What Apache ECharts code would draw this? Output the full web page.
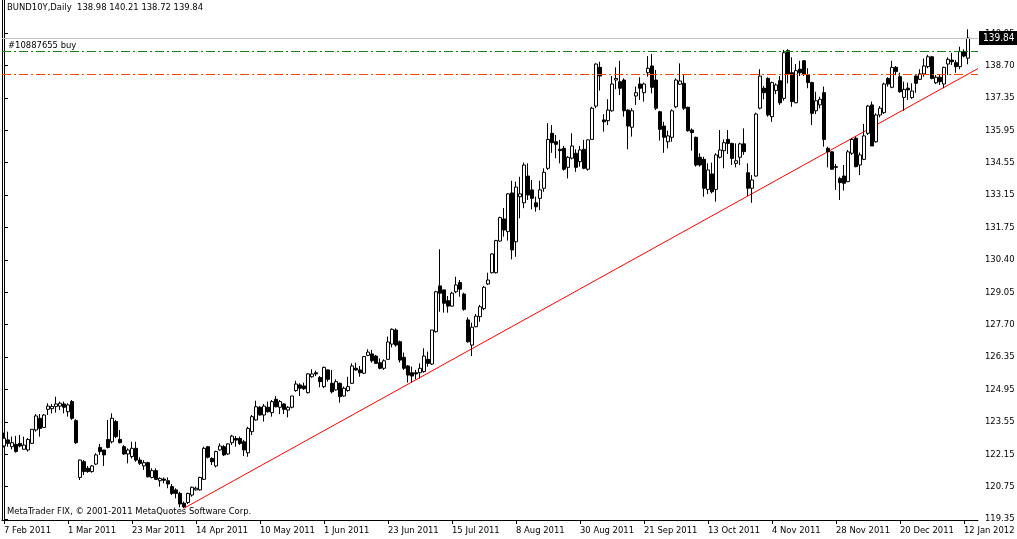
<!DOCTYPE html>
<html><head><meta charset="utf-8">
<script src="https://cdn.jsdelivr.net/npm/echarts@6/dist/echarts.min.js"></script>
<style>html,body{margin:0;padding:0;background:#fff}#c{width:1017px;height:539px}</style>
</head><body><div id="c"></div>
<script>
const symbolName = 'BUND10Y';
const timeframe = 'Daily';
const startDate = [2011, 1, 7];
const holidays = ['2011-04-22', '2011-04-25', '2011-12-26'];

const opens = [122.46,122.72,122.43,122.53,122.57,122.32,122.29,122.57,123.14,123.64,123.25,124.02,124.05,124.14,124.16,124.25,123.92,124.35,123.54,121.12,
121.79,121.51,121.37,121.69,122.40,122.29,122.74,122.64,123.50,122.74,122.43,122.12,122.01,122.36,121.86,121.61,121.75,121.12,121.41,120.98,
121.05,120.98,120.73,120.59,120.44,120.02,120.05,120.37,120.59,120.59,121.04,122.43,121.93,121.61,122.29,122.43,122.12,122.60,122.78,122.78,
122.64,122.17,123.07,123.57,124.11,123.78,124.11,123.88,124.45,124.11,124.25,123.99,124.11,124.82,125.06,125.02,124.73,125.41,125.58,125.38,
124.99,125.70,125.13,124.85,125.13,124.59,124.82,125.13,125.77,125.70,125.56,126.32,126.38,126.29,126.01,125.77,126.15,126.80,127.40,126.90,
126.24,125.87,125.58,125.58,125.58,125.63,126.15,125.95,127.33,129.28,129.11,128.65,128.42,129.03,129.42,128.93,127.83,126.76,127.54,127.97,
128.31,129.36,129.84,129.84,131.19,132.13,131.59,133.24,131.16,133.08,132.82,133.96,133.37,132.82,133.01,133.44,134.29,135.78,135.42,135.10,
135.14,134.33,134.72,134.93,134.57,135.10,134.25,135.52,136.94,138.59,136.35,136.32,136.74,138.05,137.98,138.05,136.77,136.04,137.37,137.88,
137.51,138.36,138.65,138.05,136.70,136.09,135.42,135.61,136.91,137.87,137.91,136.89,135.92,135.61,134.76,134.67,133.39,134.05,133.39,134.76,
135.04,135.52,135.35,134.50,134.76,135.33,134.10,133.44,133.96,136.85,137.70,138.12,136.49,137.60,138.02,137.27,139.30,138.36,137.08,138.51,
138.87,138.26,137.94,136.74,136.99,137.51,135.14,134.99,134.36,133.86,133.96,133.72,134.93,135.57,134.43,134.67,135.78,136.99,135.42,136.56,
136.66,138.12,137.74,138.59,138.19,137.31,137.70,137.30,138.22,138.08,138.31,138.62,139.04,137.93,138.17,137.88,138.73,138.90,138.79,138.62,
139.26,138.98];

const closes = [122.79,122.57,122.60,122.22,122.46,122.50,122.74,123.17,123.74,123.21,123.78,124.16,124.14,124.25,124.28,124.11,124.21,123.64,122.60,121.86,
121.37,121.37,121.61,122.08,122.22,122.08,122.40,123.64,122.86,122.60,122.12,122.29,122.36,121.86,121.72,121.75,121.15,121.41,121.04,121.08,
121.00,120.84,120.44,120.44,119.99,119.87,120.44,120.70,120.66,121.12,122.36,121.98,121.79,122.22,122.46,122.08,122.55,122.88,122.71,122.57,
122.29,123.21,123.71,124.13,123.78,124.16,123.92,124.35,124.13,124.35,124.02,124.11,124.59,125.10,124.92,124.90,125.53,125.53,125.53,125.20,
125.81,125.30,124.77,125.20,124.56,124.92,124.99,125.87,125.70,125.58,126.27,126.46,126.09,125.98,125.77,126.09,126.89,127.43,126.76,126.12,
125.77,125.48,125.44,125.53,125.77,126.29,125.98,127.40,129.03,128.97,128.54,128.42,128.97,129.32,129.14,128.28,126.90,127.52,127.99,128.39,
129.22,129.53,130.64,131.21,132.19,131.66,133.20,130.81,133.49,133.20,134.43,133.15,133.01,132.65,133.37,134.12,135.52,135.38,135.31,135.04,
134.25,134.76,135.24,134.33,135.07,134.29,135.50,136.85,138.73,138.22,136.27,136.77,137.88,138.12,137.70,136.74,136.09,136.74,137.51,137.70,
137.88,138.55,137.74,136.85,135.95,135.61,135.67,136.74,138.05,138.01,136.85,135.89,135.81,134.43,134.43,133.44,134.22,133.29,134.86,135.07,
135.38,135.35,134.71,134.61,135.33,135.00,133.44,133.79,136.60,138.22,137.51,136.56,137.94,137.84,137.08,139.21,138.31,137.13,138.45,138.36,
138.31,137.94,136.63,137.17,137.23,135.52,134.99,134.25,134.33,133.68,133.65,134.99,135.52,134.36,134.86,135.67,136.94,135.24,136.56,136.85,
137.88,137.88,138.59,138.41,137.55,137.65,137.63,137.58,137.91,138.31,138.65,139.04,138.12,138.17,137.98,138.59,138.93,138.83,138.62,139.26,
139.07,139.84];

const lows = [122.40,122.43,122.32,122.18,122.40,122.30,122.22,122.55,123.07,122.86,123.24,123.78,123.85,123.88,123.99,123.85,123.71,123.57,122.55,121.01,
121.22,121.32,121.32,121.65,122.08,121.61,122.36,122.57,122.79,122.57,122.08,121.72,121.93,121.79,121.65,121.44,121.12,121.08,121.01,120.73,
120.87,120.66,120.37,120.23,119.85,119.81,119.99,120.30,120.56,120.56,121.01,121.93,121.65,121.55,122.26,122.03,122.08,122.50,122.43,122.50,
122.03,122.00,122.93,123.54,123.76,123.50,123.88,123.71,124.11,123.82,123.82,123.68,124.06,124.77,124.59,124.85,124.70,125.37,125.44,124.96,
124.92,125.20,124.70,124.82,124.31,124.56,124.77,125.10,125.67,125.41,125.53,126.29,126.01,125.95,125.73,125.70,126.12,126.66,126.69,126.01,
125.70,125.16,125.16,125.30,125.34,125.58,125.84,125.91,127.29,128.18,128.14,128.14,128.40,128.97,128.82,128.22,126.86,126.29,127.52,127.75,
128.25,129.32,129.81,129.81,131.16,131.38,131.21,130.41,130.52,132.16,132.59,132.94,132.54,132.44,132.51,133.29,134.22,134.95,134.72,134.50,
134.19,133.86,134.67,134.14,134.36,134.25,134.19,135.50,136.85,137.60,135.85,136.13,136.70,137.66,137.41,136.49,135.10,135.64,136.99,137.20,
137.13,138.19,137.48,136.77,135.47,134.95,135.14,135.42,136.85,137.84,136.77,135.85,135.04,134.36,134.36,133.08,133.19,133.22,132.87,134.71,
134.29,134.90,134.43,134.33,134.43,134.86,133.11,132.82,133.93,136.80,137.23,136.49,136.27,137.45,136.99,137.17,137.91,136.91,137.06,138.22,
138.22,137.70,136.13,136.60,136.84,135.21,134.33,134.22,133.37,132.94,133.34,133.70,134.86,134.33,134.00,134.64,135.71,135.24,135.38,136.46,
136.60,137.77,137.70,138.26,137.51,136.74,137.20,137.25,137.51,138.05,138.19,138.55,138.08,137.88,137.84,137.70,138.26,138.69,138.36,138.51,
139.02,138.72];

const highs = [123.03,123.07,122.86,122.89,122.93,122.86,122.80,123.18,123.82,123.82,123.82,124.28,124.25,124.56,124.35,124.35,124.28,124.42,123.60,121.88,
121.86,121.61,121.65,122.15,122.55,122.29,123.57,123.85,123.57,123.14,122.50,122.36,122.64,122.64,121.98,121.86,121.79,121.51,121.51,121.12,
121.12,121.12,120.84,120.66,120.51,120.09,120.47,120.73,120.73,121.15,122.43,122.46,121.98,122.26,122.57,122.50,122.57,122.93,122.88,122.86,
122.72,123.28,123.78,124.39,124.16,124.25,124.35,124.42,124.59,124.42,124.28,124.16,124.59,125.24,125.13,125.16,125.56,125.73,125.67,125.44,
125.84,125.73,125.70,125.30,125.16,124.99,125.41,125.98,126.01,125.87,126.29,126.58,126.55,126.34,126.19,126.15,127.12,127.47,127.47,126.95,
126.44,125.91,125.84,125.70,125.98,126.62,126.48,127.40,129.07,130.84,129.11,128.85,129.03,129.67,129.53,128.99,127.94,127.71,128.08,128.47,
129.28,129.84,130.67,131.24,132.23,132.60,133.24,133.76,133.72,133.93,134.53,134.50,133.79,133.08,133.76,134.29,136.21,136.13,135.71,135.50,
135.24,134.81,135.78,135.10,135.24,135.50,135.52,136.91,138.76,138.83,136.60,137.23,138.22,138.59,138.87,138.12,136.80,136.85,137.77,138.17,
137.94,139.07,139.16,138.48,136.74,136.27,135.89,136.80,138.12,138.76,138.26,136.91,135.99,135.64,134.93,134.78,134.50,134.53,134.93,135.92,
135.52,135.92,135.38,135.35,135.38,135.99,134.50,134.00,136.66,138.51,137.80,138.17,137.98,137.91,138.22,139.33,139.36,139.02,138.73,138.87,
138.90,138.55,137.98,137.55,137.34,137.77,135.21,135.01,134.47,133.93,134.43,135.07,135.57,135.64,134.96,136.18,136.99,137.13,136.63,136.94,
137.94,138.17,138.87,138.65,138.36,137.98,137.94,137.91,138.26,138.51,138.97,139.12,139.07,138.26,138.26,138.62,139.02,139.21,138.90,139.47,
139.36,140.21];

const yTickLabels = ['119.35','120.75','122.15','123.55','124.95','126.35','127.70','129.05','130.40','131.75','133.15','134.55','135.95','137.35','138.70','140.05'];
const bidPrice = 139.84;
const buyOrderPrice = 139.29;
const buyOrderLabel = '#10887655 buy';
const orangeLevel = 138.31;
const trendline = [[45, 119.81], [243.5, 138.54]];
const copyright = 'MetaTrader FIX, \u00a9 2001-2011 MetaQuotes Software Corp.';

const FONT = "'DejaVu Sans Condensed', 'DejaVu Sans', sans-serif";
const FS = 9.4;
const monthNames = ['Jan','Feb','Mar','Apr','May','Jun','Jul','Aug','Sep','Oct','Nov','Dec'];

// trading-day categories (weekdays without exchange holidays)
const dates = [];
let dt = new Date(Date.UTC(startDate[0], startDate[1], startDate[2]));
while (dates.length < opens.length) {
  const wd = dt.getUTCDay();
  const iso = dt.toISOString().slice(0, 10);
  if (wd !== 0 && wd !== 6 && holidays.indexOf(iso) < 0) {
    dates.push(dt.getUTCDate() + ' ' + monthNames[dt.getUTCMonth()] + ' ' + dt.getUTCFullYear());
  }
  dt = new Date(dt.getTime() + 86400000);
}
const categories = dates.concat([' ', '  ']);
const candles = opens.map((o, i) => [o, closes[i], lows[i], highs[i]]);
const last = opens.length - 1;
const header = symbolName + ',' + timeframe + '  ' + opens[last].toFixed(2) + ' ' + highs[last].toFixed(2) + ' ' + lows[last].toFixed(2) + ' ' + closes[last].toFixed(2);

const yMin = 119.307, yMax = 141.459, yStep = 1.38, yBase = 119.35;
const yTickValues = yTickLabels.map((_, k) => yBase + k * yStep);
const labelEvery = 16;

const chart = echarts.init(document.getElementById('c'), null, {renderer: 'canvas'});
chart.setOption({
  animation: false,
  backgroundColor: '#ffffff',
  textStyle: {fontFamily: FONT},
  grid: {left: 2, right: 39, top: 0, bottom: 19, containLabel: false, outerBoundsMode: 'none'},
  xAxis: [{
    type: 'category', data: categories, boundaryGap: true,
    axisLine: {show: true, lineStyle: {color: '#000', width: 1}},
    axisTick: {show: true, alignWithLabel: true, length: 4, lineStyle: {color: '#000'},
      interval: (i) => i % labelEvery === 0 && i < dates.length},
    axisLabel: {show: true, color: '#000', fontSize: FS, fontFamily: FONT, align: 'left', margin: 6,
      hideOverlap: false, interval: (i) => i % labelEvery === 0 && i < dates.length},
    splitLine: {show: false}
  }, {
    type: 'value', min: -0.5, max: categories.length - 0.5, show: false
  }],
  yAxis: [{
    type: 'value', position: 'right', min: yMin, max: yMax, scale: true,
    axisLine: {show: true, lineStyle: {color: '#000', width: 1}},
    axisTick: {show: true, length: 4, lineStyle: {color: '#000'}, customValues: yTickValues},
    axisLabel: {show: true, color: '#000', fontSize: FS, fontFamily: FONT, margin: 7, customValues: yTickValues,
      formatter: (v) => yTickLabels[Math.round((v - yBase) / yStep)] || ''},
    splitLine: {show: false}
  }, {
    type: 'value', position: 'left', min: yMin, max: yMax,
    axisLine: {show: true, lineStyle: {color: '#000', width: 1}},
    axisTick: {show: false}, axisLabel: {show: false}, splitLine: {show: false}
  }],
  graphic: [
    {type: 'text', left: 7, top: 3, z: 100, style: {text: header, fill: '#000', font: FS + 'px ' + FONT}},
    {type: 'text', left: 7, top: 507, z: 100, style: {text: copyright, fill: '#000', font: FS + 'px ' + FONT}}
  ],
  series: [{
    type: 'candlestick', xAxisIndex: 0, yAxisIndex: 0, data: candles, barWidth: 3,
    itemStyle: {color: '#ffffff', color0: '#000000', borderColor: '#000000', borderColor0: '#000000', borderWidth: 1},
    markLine: {
      silent: true, symbol: ['none', 'none'], animation: false,
      data: [
        {yAxis: bidPrice, lineStyle: {color: '#c0c0c0', type: 'solid', width: 1},
          label: {show: true, position: 'end', distance: 1, formatter: bidPrice.toFixed(2), color: '#fff',
            backgroundColor: '#000', padding: [2, 4, 2, 4], fontSize: FS + 0.6, fontFamily: FONT}},
        {yAxis: buyOrderPrice, lineStyle: {color: '#1a7f1a', type: [9, 3, 2, 3], width: 1},
          label: {show: true, position: 'insideStartTop', distance: 1, formatter: buyOrderLabel, color: '#000',
            padding: [0, 0, 0, 5], fontSize: FS, fontFamily: FONT}},
        {yAxis: orangeLevel, lineStyle: {color: '#ff4500', type: [9, 3, 2, 3], width: 1},
          label: {show: false}}
      ]
    }
  }, {
    type: 'line', xAxisIndex: 1, yAxisIndex: 0, data: trendline, symbol: 'none',
    lineStyle: {color: '#ff0000', width: 1}, silent: true, z: 1
  }]
});
</script></body></html>
